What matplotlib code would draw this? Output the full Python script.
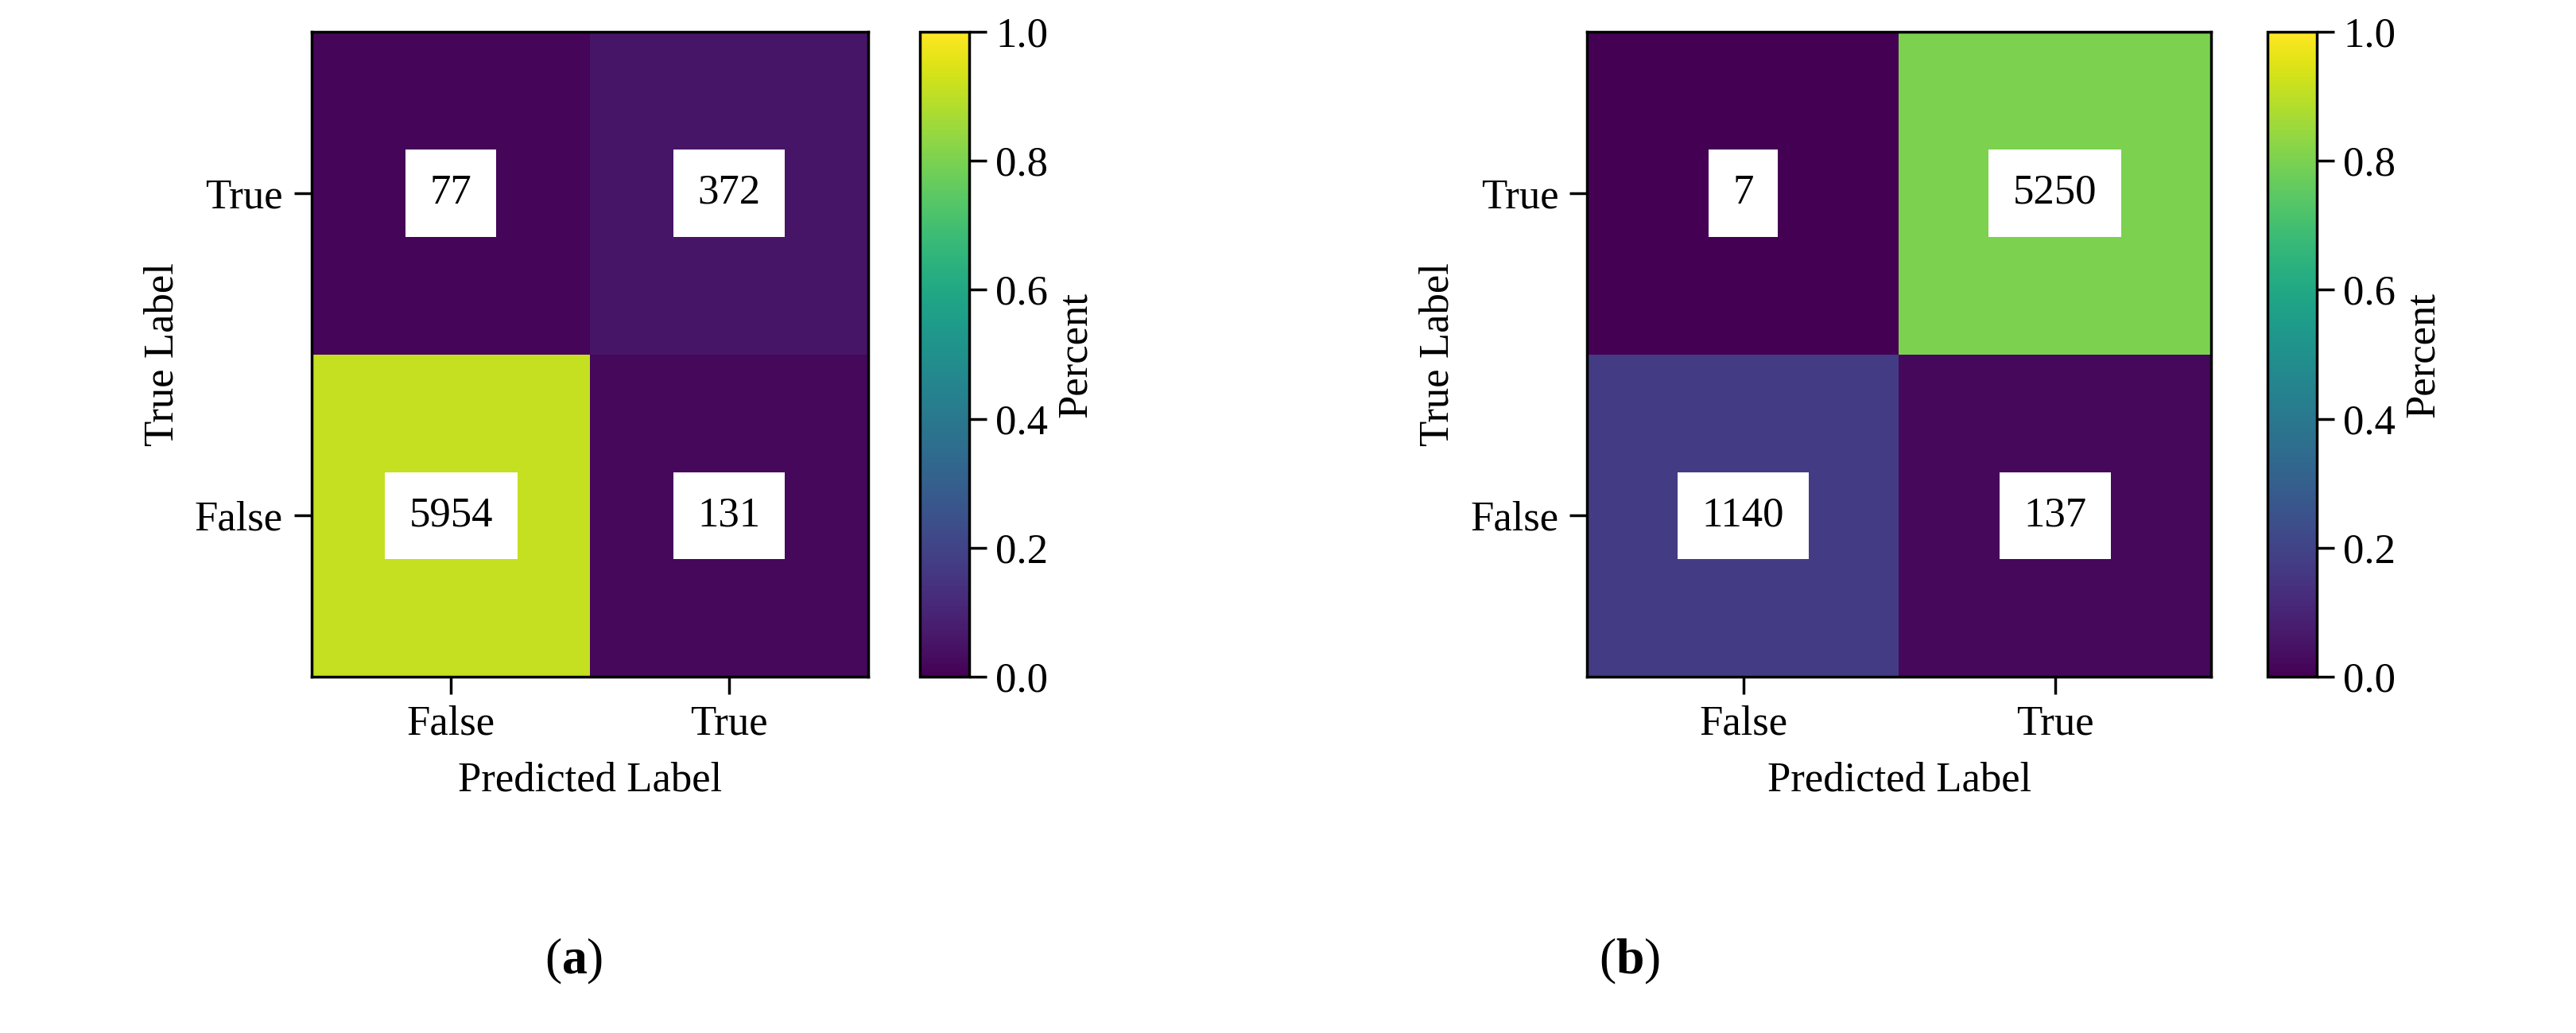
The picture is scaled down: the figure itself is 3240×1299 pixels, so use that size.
import matplotlib
matplotlib.use("Agg")
import matplotlib.pyplot as plt
import numpy as np

plt.rcParams['font.family'] = ['Liberation Serif', 'DejaVu Serif']

x_labels = ["False", "True"]
y_labels = ["False", "True"]
# rows: True label False, True ; cols: predicted False, True
counts_a = [[5954, 131], [77, 372]]
counts_b = [[1140, 137], [7, 5250]]

fig = plt.figure(figsize=(32.41, 12.99), dpi=100)
fs = 38

def panel(ax_rect, cb_rect, counts, letter, lx):
    ax = fig.add_axes(ax_rect)
    cax = fig.add_axes(cb_rect)
    c = np.array(counts, dtype=float)
    pct = c / c.sum()
    im = ax.imshow(pct, cmap='viridis', vmin=0, vmax=1, origin='lower', aspect='auto')
    for i in range(2):
        for j in range(2):
            ax.text(j, i, str(counts[i][j]), ha='center', va='center', fontsize=fs,
                    bbox=dict(facecolor='white', edgecolor='none', pad=22))
    ax.set_xticks([0, 1], x_labels, fontsize=fs)
    ax.set_yticks([0, 1], y_labels, fontsize=fs)
    ax.tick_params(length=16, width=2.5, pad=10)
    for s in ax.spines.values():
        s.set_linewidth(2.5)
    ax.set_xlabel("Predicted Label", fontsize=fs, labelpad=16)
    ax.set_ylabel("True Label", fontsize=fs, labelpad=12)
    cb = fig.colorbar(im, cax=cax)
    cb.set_ticks([0, 0.2, 0.4, 0.6, 0.8, 1.0])
    cb.ax.set_yticklabels(["0.0", "0.2", "0.4", "0.6", "0.8", "1.0"])
    cb.ax.tick_params(labelsize=fs, length=16, width=2.5, pad=8)
    cb.outline.set_linewidth(2.5)
    cb.set_label("Percent", fontsize=fs, labelpad=8)
    lf = 46
    fig.text(lx, 0.07, "(", fontsize=lf, ha='right', va='center')
    t = fig.text(lx, 0.07, letter, fontsize=lf, fontweight='bold', ha='left', va='center')
    fig.canvas.draw()
    bb = t.get_window_extent()
    w = bb.width / fig.bbox.width
    fig.text(lx + w, 0.07, ")", fontsize=lf, ha='left', va='center')

panel([0.121, 0.345, 0.216, 0.624], [0.357, 0.345, 0.019, 0.624], counts_a, "a", 0.218)
panel([0.616, 0.345, 0.242, 0.624], [0.880, 0.345, 0.019, 0.624], counts_b, "b", 0.627)

fig.savefig("out.png", dpi=100)
